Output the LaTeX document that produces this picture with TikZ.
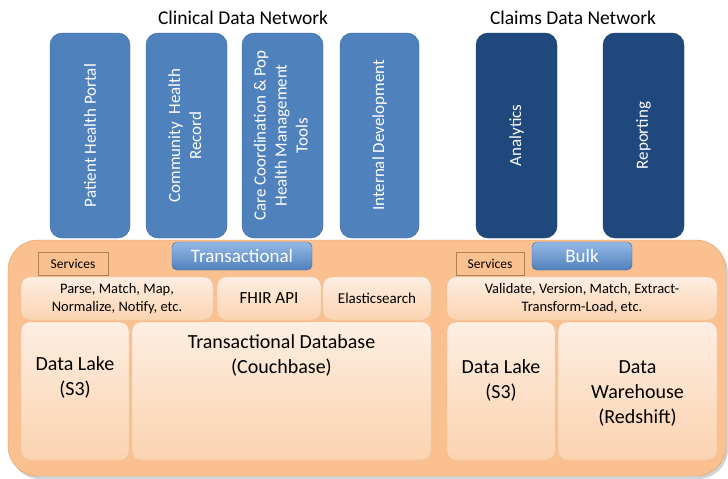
\documentclass[tikz,border=0pt]{standalone}
\usepackage{fontspec}
\setmainfont{Carlito}
\usepackage{tikz}
\usetikzlibrary{shadows}
\definecolor{appblue}{HTML}{4F81BD}
\definecolor{appblueline}{HTML}{3A64A0}
\definecolor{clmblue}{HTML}{1F497D}
\definecolor{clmblueline}{HTML}{17375E}
\definecolor{tabtop}{HTML}{95B9E6}
\definecolor{platform}{HTML}{FAC090}
\definecolor{platformline}{HTML}{D9A06A}
\definecolor{celltop}{HTML}{FDEEE2}
\definecolor{cellbot}{HTML}{FBD3B0}
\definecolor{cellline}{HTML}{E3C7A3}

\begin{document}
\begin{tikzpicture}[x=1pt,y=-1pt]
        %
        % `app' and `claims' are the tall boxes on top.
        % `tab' is used for the Transactional / Bulk labels.
        % `cell' is used for every box inside the platform.
        \tikzstyle{app} = [draw=appblueline,fill=appblue,rounded corners=12pt,
            minimum height=205pt,inner sep=0pt,text=white,align=center,
            font=\fontsize{17}{21}\selectfont]
        \tikzstyle{claims} = [app,draw=clmblueline,fill=clmblue]
        \tikzstyle{tab} = [draw=appblueline,top color=tabtop,bottom color=appblue,
            rounded corners=5pt,minimum height=28pt,inner sep=0pt,text=white,
            font=\fontsize{19}{22}\selectfont]
        \tikzstyle{platform} = [draw=platformline,fill=platform,rounded corners=30pt,
            drop shadow={shadow xshift=2pt,shadow yshift=-3pt,opacity=.35}]
        \tikzstyle{cell} = [draw=cellline,top color=celltop,bottom color=cellbot,
            rounded corners=9pt,inner sep=0pt]
        \tikzstyle{services} = [draw=platformline!80!black,fill=platform,
            minimum height=23pt,inner sep=0pt,font=\fontsize{13.5}{16}\selectfont]
        \tikzstyle{small} = [align=center,font=\fontsize{14.5}{18}\selectfont]
        \tikzstyle{big} = [align=center,font=\fontsize{20}{25}\selectfont]
        %
        \useasboundingbox (0,0) rectangle (728,479);
        %
        % Titles
        \node (clinical) at (243,18) {\fontsize{19.5}{22}\selectfont Clinical Data Network};
        \node (claimsnet) at (573,18) {\fontsize{19.5}{22}\selectfont Claims Data Network};
        %
        % Applications
        \node[app,minimum width=80pt] (portal) at (90,135.5)
            {\rotatebox{90}{Patient Health Portal}};
        \node[app,minimum width=81pt] (chr) at (186.5,135.5)
            {\rotatebox{90}{\begin{tabular}{@{}c@{}}Community\ \ Health\\Record\end{tabular}}};
        \node[app,minimum width=81pt] (care) at (282.5,135.5)
            {\rotatebox{90}{\begin{tabular}{@{}c@{}}Care Coordination \& Pop\\Health Management\\Tools\end{tabular}}};
        \node[app,minimum width=79pt] (internal) at (379.5,135.5)
            {\rotatebox{90}{Internal Development}};
        \node[claims,minimum width=81pt] (analytics) at (516.5,135.5)
            {\rotatebox{90}{Analytics}};
        \node[claims,minimum width=81pt] (reporting) at (643.5,135.5)
            {\rotatebox{90}{Reporting}};
        %
        % Platform
        \node[platform,minimum width=718pt,minimum height=236pt] (base) at (367,358) {};
        \node[tab,minimum width=140pt] (trans) at (242,256) {Transactional};
        \node[tab,minimum width=100pt] (bulk) at (582,256) {Bulk};
        %
        % Clinical side
        \node[services,minimum width=70pt] (svc1) at (73,263.5) {Services};
        \node[cell,minimum width=192pt,minimum height=43pt,small] (parse) at (117,298.5)
            {Parse, Match, Map,\\Normalize, Notify, etc.};
        \node[cell,minimum width=104pt,minimum height=43pt,font=\fontsize{17}{20}\selectfont] (fhir) at (269,298.5) {FHIR API};
        \node[cell,minimum width=108pt,minimum height=43pt,font=\fontsize{15}{18}\selectfont] (elastic) at (377,298.5) {Elasticsearch};
        \node[cell,minimum width=108pt,minimum height=138pt] (lake1) at (75,391) {};
        \node[cell,minimum width=299pt,minimum height=138pt] (txdb) at (281.5,391) {};
        \node[big] (lake1-t) at (75,377) {Data Lake\\(S3)};
        \node[big] (txdb-t) at (281.5,355) {Transactional Database\\(Couchbase)};
        %
        % Claims side
        \node[services,minimum width=68pt] (svc2) at (490,263.5) {Services};
        \node[cell,minimum width=270pt,minimum height=43pt,small] (validate) at (582,298.5)
            {Validate, Version, Match, Extract-\\Transform-Load, etc.};
        \node[cell,minimum width=108pt,minimum height=138pt] (lake2) at (501,391) {};
        \node[cell,minimum width=159pt,minimum height=138pt] (dw) at (637.5,391) {};
        \node[big] (lake2-t) at (501,380) {Data Lake\\(S3)};
        \node[big] (dw-t) at (637.5,393) {Data\\Warehouse\\(Redshift)};
        %
\end{tikzpicture}
\end{document}
